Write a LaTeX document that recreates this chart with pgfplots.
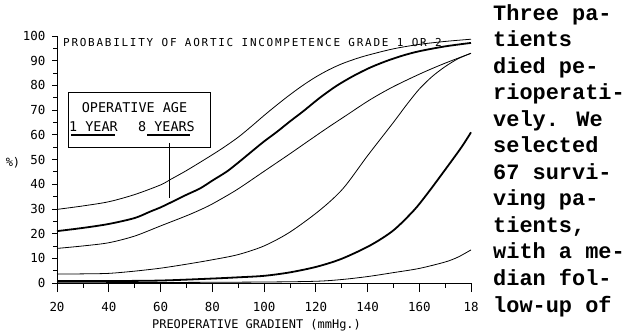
\documentclass[border=0pt]{standalone}
\usepackage{pgfplots}
\pgfplotsset{compat=1.18}
\usepackage{fontspec}
\newfontfamily\plotfont{DejaVu Sans Mono}
\newfontfamily\titlefont{DejaVu Sans Mono}[LetterSpace=16]
\newfontfamily\bodyfont{Liberation Mono}

\pgfplotstableread{
x y
20 29.8
30 31.2
40 32.9
50 35.8
60 39.7
64 42.0
70 45.5
78 50.6
84 54.6
90 59.0
95 63.3
100 67.8
105 72.1
110 76.2
115 80.0
120 83.4
125 86.3
130 88.7
135 90.6
140 92.2
150 94.8
160 96.6
170 97.8
180 98.7
}\curveA

\pgfplotstableread{
x y
20 21.0
30 22.3
40 23.9
50 26.3
56 28.9
60 30.6
63.4 32.3
70 35.7
75.3 38.3
80.4 41.7
85.6 45.1
90 48.7
95.9 53.8
100 57.3
105 61.2
110 65.4
115 69.4
121.6 75.0
128 79.8
134.5 83.8
141 87.2
147.4 89.9
154 92.2
160.3 93.9
170 95.8
180 97.2
}\curveB

\pgfplotstableread{
x y
20 14.0
30 15.0
40 16.3
50 19.0
60 23.1
70 27.2
75.3 29.6
80 32.0
89.4 37.7
100 45.2
110 52.3
117 57.4
124.5 62.8
132 68.0
141 74.2
150 79.5
161 85.0
170 89.0
180 93.0
}\curveC

\pgfplotstableread{
x y
20 3.6
30 3.7
40 3.9
50 4.8
60 6.0
70 7.6
80 9.4
90 11.5
100 15.0
110 20.6
121.6 29.5
130.6 38.3
140 51.5
150 65.0
155 72.0
160 78.5
165 83.6
170 87.6
175 90.8
180 93.0
}\curveD

\pgfplotstableread{
x y
20 0.8
40 0.8
60 1.0
80 1.8
90 2.3
100 2.9
110 4.3
120.4 6.6
130 9.8
141 15.2
150 21.3
158 29.5
163 36.0
168 43.0
176 54.5
180 61.0
}\curveE

\pgfplotstableread{
x y
20 0.1
60 0.2
100 0.4
120 0.7
130 1.4
140 2.6
150 4.2
160 5.9
170 8.5
175 10.5
180 13.4
}\curveF

\begin{document}
\begin{tikzpicture}
\useasboundingbox (0,0) rectangle (628bp,336bp);
\begin{axis}[
  at={(57bp,53bp)}, anchor=south west,
  scale only axis, width=414bp, height=247bp,
  xmin=20, xmax=180, ymin=0, ymax=100,
  axis x line=bottom, axis y line=left,
  axis line style={-, line width=0.8bp},
  xtick={20,40,...,180}, xticklabels={20,40,60,80,100,120,140,160,18},
  minor xtick={30,50,...,170},
  ytick={0,10,...,100}, minor ytick={5,15,...,95},
  tick align=outside,
  major tick length=5bp, minor tick length=4bp,
  xtick style={/pgfplots/major tick length=9bp,/pgfplots/minor tick length=4.5bp},
  tick style={line width=0.7bp, black},
  tick label style={font=\plotfont\fontsize{12.5}{12.5}\selectfont},
  xticklabel style={yshift=-11bp},
  yticklabel style={xshift=-3bp},
  /pgf/number format/assume math mode=true,
  clip=false,
]
\addplot[black, line width=0.8bp, smooth, tension=0.5] table[x=x,y=y] {\curveA};
\addplot[black, line width=1.8bp, smooth, tension=0.5] table[x=x,y=y] {\curveB};
\addplot[black, line width=0.8bp, smooth, tension=0.5] table[x=x,y=y] {\curveC};
\addplot[black, line width=0.8bp, smooth, tension=0.5] table[x=x,y=y] {\curveD};
\addplot[black, line width=1.8bp, smooth, tension=0.5] table[x=x,y=y] {\curveE};
\addplot[black, line width=0.8bp, smooth, tension=0.5] table[x=x,y=y] {\curveF};
\end{axis}

% title inside plot
\node[anchor=west, inner sep=0pt, font=\titlefont\fontsize{11}{11}\selectfont] at (63bp,293bp) {PROBABILITY OF AORTIC INCOMPETENCE GRADE 1 OR 2};

% legend box
\draw[line width=0.8bp] (68bp,244bp) rectangle (210bp,189bp);
\node[inner sep=0pt, font=\plotfont\fontsize{13.5}{13.5}\selectfont] at (134.5bp,228.8bp) {OPERATIVE AGE};
\node[inner sep=0pt, font=\plotfont\fontsize{13.5}{13.5}\selectfont] at (93.5bp,209.8bp) {1 YEAR};
\node[inner sep=0pt, font=\plotfont\fontsize{13.5}{13.5}\selectfont] at (166.5bp,209.8bp) {8 YEARS};
\draw[line width=1.8bp] (71bp,201bp) -- (115bp,201bp);
\draw[line width=1.8bp] (147bp,201bp) -- (190bp,201bp);
\draw[line width=0.8bp] (169.5bp,193bp) -- (169.5bp,138bp);

% axis labels
\node[inner sep=0pt, font=\plotfont\fontsize{12}{12}\selectfont] at (13bp,173bp) {\%)};
\node[inner sep=0pt, font=\plotfont\fontsize{12}{12}\selectfont] at (256.5bp,11bp) {PREOPERATIVE GRADIENT (mmHg.)};

% body text
\begin{scope}[every node/.style={anchor=base west, inner sep=0pt, font=\bodyfont\bfseries\fontsize{22}{22}\selectfont}]
\node at (493bp,315.5bp) {Three pa-};
\node at (493bp,289.0bp) {tients};
\node at (493bp,262.5bp) {died pe-};
\node at (493bp,236.0bp) {rioperati-};
\node at (493bp,209.5bp) {vely. We};
\node at (493bp,183.0bp) {selected};
\node at (493bp,156.5bp) {67 survi-};
\node at (493bp,130.0bp) {ving pa-};
\node at (493bp,103.5bp) {tients,};
\node at (493bp,77.0bp) {with a me-};
\node at (493bp,50.5bp) {dian fol-};
\node at (493bp,24.0bp) {low-up of};
\end{scope}
\end{tikzpicture}
\end{document}
